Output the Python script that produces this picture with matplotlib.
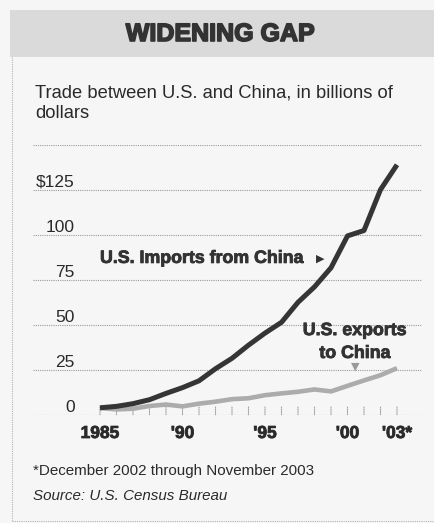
import matplotlib
matplotlib.use("Agg")
import matplotlib.pyplot as plt
from matplotlib.patches import Rectangle
from matplotlib.lines import Line2D
import matplotlib.patheffects as pe

years = list(range(1985, 2004))
imports = [4, 4.8, 6.3, 8.5, 12.0, 15.2, 19.0, 25.7, 31.5, 38.8, 45.5, 51.5,
           62.6, 71.2, 81.8, 99.5, 102.5, 125.2, 139]
exports = [3.9, 3.1, 3.5, 5.0, 5.8, 4.8, 6.3, 7.4, 8.8, 9.3, 11.0, 12.0,
           12.9, 14.2, 13.1, 16.2, 19.2, 22.1, 26]
yticks = [0, 25, 50, 75, 100, 125, 150]
ytick_labels = ["0", "25", "50", "75", "100", "$125", ""]
xtick_pos = [1985, 1990, 1995, 2000, 2003]
xtick_labels = ["1985", "'90", "'95", "'00", "'03*"]

W, H = 435, 523
DPI = 100
FONT = "Liberation Sans"

fig = plt.figure(figsize=(W / DPI, H / DPI), dpi=DPI)
fig.patch.set_facecolor("#f6f6f6")

def fx(px):
    return px / W

def fy(py):
    return 1 - py / H

heavy = [pe.withStroke(linewidth=1.2, foreground="#333333")]
semi = [pe.withStroke(linewidth=0.6, foreground="#333333")]

# header band
fig.add_artist(Rectangle((fx(10), fy(57)), fx(425), (57 - 10) / H,
                         transform=fig.transFigure, facecolor="#dadada",
                         edgecolor="none", zorder=0))
# left & bottom borders
fig.add_artist(Line2D([fx(12), fx(12)], [fy(57), fy(521)], transform=fig.transFigure,
                      color="#b5b5b5", lw=0.8, ls=(0, (1, 1))))
fig.add_artist(Line2D([fx(12), fx(435)], [fy(521), fy(521)], transform=fig.transFigure,
                      color="#b5b5b5", lw=0.8, ls=(0, (1, 1))))

fig.text(fx(220), fy(34), "WIDENING GAP", ha="center", va="center",
         fontsize=18, fontweight="bold", family=FONT, color="#333333",
         path_effects=heavy)
fig.text(fx(35), fy(97), "Trade between U.S. and China, in billions of",
         ha="left", va="baseline", fontsize=13.2, family=FONT, color="#2a2a2a")
fig.text(fx(35), fy(118), "dollars",
         ha="left", va="baseline", fontsize=13.2, family=FONT, color="#2a2a2a")
fig.text(fx(33), fy(475), "*December 2002 through November 2003",
         ha="left", va="baseline", fontsize=10.9, family=FONT, color="#2a2a2a")
fig.text(fx(33), fy(500), "Source: U.S. Census Bureau",
         ha="left", va="baseline", fontsize=10.9, family=FONT, style="italic",
         color="#2a2a2a")

# axes: x pixels 33..422 ; y pixels 415 (0) .. 145 (150)
ax = fig.add_axes([fx(33), fy(415), fx(422 - 33), (415 - 145) / H])
ax.set_facecolor("none")
px_per_year = 16.5
ax.set_xlim(1985 - (100 - 33) / px_per_year, 1985 + (422 - 100) / px_per_year)
ax.set_ylim(0, 150)
for s in ax.spines.values():
    s.set_visible(False)
ax.set_xticks([])
ax.set_yticks([])

for v in yticks:
    ax.axhline(v, color="#9a9a9a", lw=0.8, ls=(0, (1, 1)), zorder=1)

# small year ticks
for yr in years:
    ax.annotate("", xy=(yr, 0), xytext=(0, 8), textcoords="offset pixels",
                arrowprops=dict(arrowstyle="-", color="#a5a5a5", lw=0.8,
                                ls=(0, (1, 1)), shrinkA=0, shrinkB=0))

# y labels
for v, lab in zip(yticks, ytick_labels):
    if lab:
        ax.annotate(lab, xy=(0, v), xycoords=("axes fraction", "data"),
                    xytext=(75 - 33, 3), textcoords="offset pixels",
                    ha="right", va="baseline", fontsize=12.5, family=FONT,
                    color="#2a2a2a")

# x labels
for x, lab in zip(xtick_pos, xtick_labels):
    ax.annotate(lab, xy=(x, 0), xytext=(0, -23), textcoords="offset pixels",
                ha="center", va="baseline", fontsize=12.5, fontweight="bold",
                family=FONT, color="#2a2a2a", annotation_clip=False,
                path_effects=semi)

ax.plot(years, exports, color="#acacac", lw=3.3, solid_capstyle="butt",
        zorder=3, clip_on=False)
ax.plot(years, imports, color="#353535", lw=3.6, solid_capstyle="butt",
        solid_joinstyle="round", zorder=4, clip_on=False)

ax.text(1985, 84.5, "U.S. Imports from China", ha="left", va="baseline",
        fontsize=12.8, fontweight="bold", family=FONT, color="#333333",
        path_effects=semi)
ax.text(1998.1, 86.8, "\u25B6", ha="left", va="center", fontsize=8,
        family="DejaVu Sans", color="#333333")

ax.text(2000.45, 44.4, "U.S. exports", ha="center", va="baseline",
        fontsize=12.8, fontweight="bold", family=FONT, color="#333333",
        path_effects=semi)
ax.text(2000.45, 31.7, "to China", ha="center", va="baseline",
        fontsize=12.8, fontweight="bold", family=FONT, color="#333333",
        path_effects=semi)
ax.text(2000.45, 26.8, "\u25BC", ha="center", va="center", fontsize=8,
        family="DejaVu Sans", color="#9a9a9a")

fig.savefig("out.png", dpi=DPI, facecolor=fig.get_facecolor())
